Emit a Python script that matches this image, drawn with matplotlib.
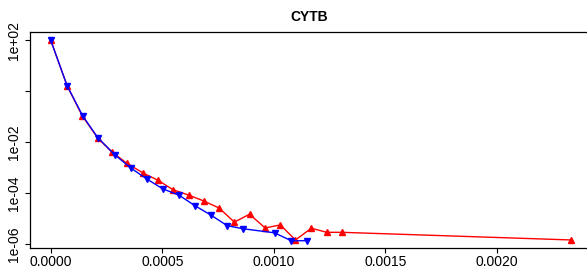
import matplotlib
matplotlib.use("Agg")
import matplotlib.pyplot as plt
import numpy as np

plt.rcParams['font.family'] = ['Liberation Sans', 'DejaVu Sans']

title = "CYTB"

red_x = [0.0, 0.0000732, 0.000141, 0.000211, 0.000275, 0.000341, 0.000413, 0.000481,
         0.000548, 0.000618, 0.000686, 0.000755, 0.000823, 0.000891, 0.000961, 0.001029,
         0.001097, 0.001168, 0.001237, 0.001304, 0.002333]
red_logy = [2.0, 0.22, -0.96, -1.84, -2.39, -2.82, -3.20, -3.49, -3.86, -4.07, -4.30,
            -4.58, -5.13, -4.82, -5.36, -5.24, -5.83, -5.37, -5.53, -5.53, -5.83]

blue_x = [0.0, 0.0000732, 0.000143, 0.000211, 0.000287, 0.000359, 0.000431, 0.000501,
          0.000576, 0.000647, 0.000717, 0.000791, 0.000862, 0.001003, 0.001078, 0.001148]
blue_logy = [2.0, 0.22, -0.96, -1.82, -2.49, -3.01, -3.44, -3.82, -4.08, -4.49, -4.85,
             -5.27, -5.39, -5.55, -5.86, -5.86]

x_ticks = [0.0, 0.0005, 0.0010, 0.0015, 0.0020]
x_ticklabels = ["0.0000", "0.0005", "0.0010", "0.0015", "0.0020"]
y_ticks = [1e2, 1e0, 1e-2, 1e-4, 1e-6]
y_ticklabels = ["1e+02", "", "1e-02", "1e-04", "1e-06"]

red_y = [10 ** v for v in red_logy]
blue_y = [10 ** v for v in blue_logy]

fig = plt.figure(figsize=(5.87, 2.69), dpi=100)
ax = fig.add_axes([30 / 587, 1 - 248.3 / 269, 1 - 30 / 587 + 0.002, (248.3 - 32) / 269])

ax.plot(red_x, red_y, color='red', marker='^', markersize=5, linewidth=1.0)
ax.plot(blue_x, blue_y, color='blue', marker='v', markersize=5, linewidth=1.0)

ax.set_yscale('log')
ax.set_xlim(-0.0000930, 0.002409)
ax.set_ylim(10 ** -6.157, 10 ** 2.325)
ax.set_xticks(x_ticks)
ax.set_xticklabels(x_ticklabels)
ax.set_yticks(y_ticks)
ax.set_yticklabels(y_ticklabels, rotation=90, va='center')
ax.yaxis.set_minor_locator(matplotlib.ticker.NullLocator())
ax.tick_params(axis='both', labelsize=10, length=3.5, width=0.8)
ax.tick_params(axis='x', pad=1.2)
ax.tick_params(axis='y', pad=3)
for s in ax.spines.values():
    s.set_linewidth(0.9)
ax.spines['right'].set_visible(False)

ax.set_title(title, fontsize=10, fontweight='bold', pad=8)

fig.savefig("out.png", dpi=100)
